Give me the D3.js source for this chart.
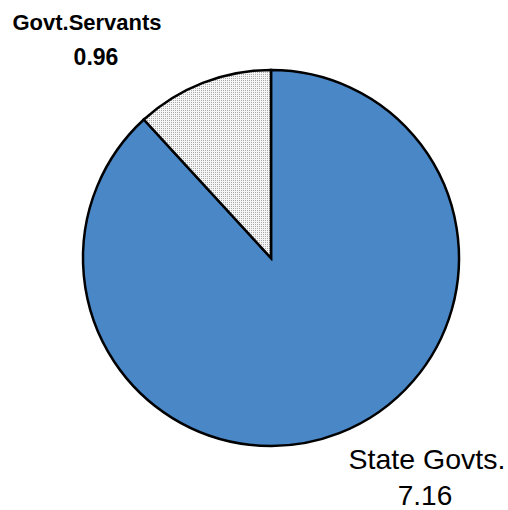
<!DOCTYPE html>
<html><head><meta charset="utf-8">
<script src="https://cdn.jsdelivr.net/npm/d3@7"></script>
<style>body{margin:0;background:#fff}svg{display:block}</style>
</head><body>
<script>
const categories = ["State Govts.", "Govt.Servants"];
const values = [7.16, 0.96];
const valueLabels = ["7.16", "0.96"];

const W = 508, H = 510;
const svg = d3.select("body").append("svg").attr("width", W).attr("height", H);
const defs = svg.append("defs");
const pat = defs.append("pattern").attr("id", "dots").attr("patternUnits", "userSpaceOnUse")
  .attr("width", 2).attr("height", 2);
pat.append("rect").attr("width", 2).attr("height", 2).attr("fill", "#f6f6f6");
pat.append("rect").attr("width", 1).attr("height", 1).attr("fill", "#a8a8a8");

const cx = 271, cy = 258, r = 188;
const pie = d3.pie().sort(null).startAngle(0).endAngle(2 * Math.PI)(values);
const arc = d3.arc().innerRadius(0).outerRadius(r);
const fills = ["#4a87c6", "url(#dots)"];
const g = svg.append("g").attr("transform", `translate(${cx},${cy})`);
g.selectAll("path").data(pie).join("path")
  .attr("d", arc).attr("fill", (d, i) => fills[i])
  .attr("stroke", "#000").attr("stroke-width", 2.5).attr("stroke-linejoin", "miter");

const font = "Liberation Sans, Arial, sans-serif";
svg.append("text").attr("x", 87).attr("y", 30).attr("text-anchor", "middle")
  .attr("font-family", font).attr("font-weight", "bold").attr("font-size", 22)
  .text(categories[1]);
svg.append("text").attr("x", 96).attr("y", 65).attr("text-anchor", "middle")
  .attr("font-family", font).attr("font-weight", "bold").attr("font-size", 23)
  .text(valueLabels[1]);
svg.append("text").attr("x", 427).attr("y", 469).attr("text-anchor", "middle")
  .attr("font-family", font).attr("font-size", 28.5).text(categories[0]);
svg.append("text").attr("x", 425).attr("y", 505).attr("text-anchor", "middle")
  .attr("font-family", font).attr("font-size", 28).text(valueLabels[0]);
</script>
</body></html>
